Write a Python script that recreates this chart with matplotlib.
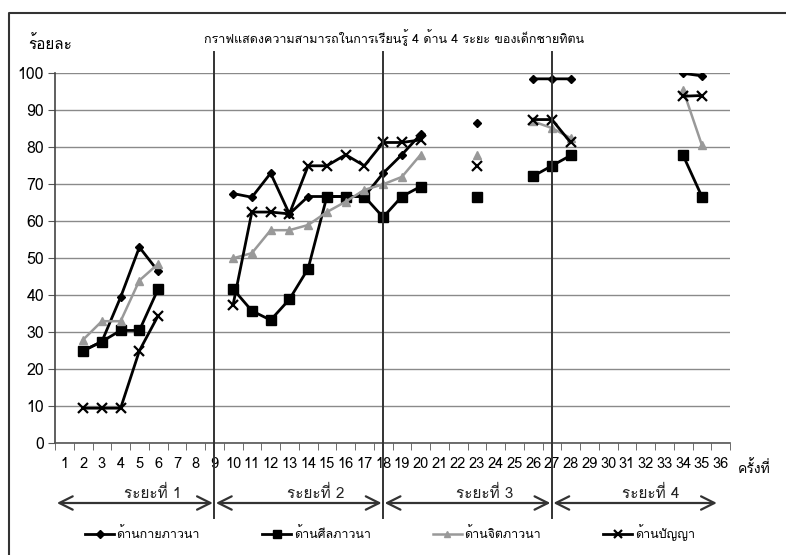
import numpy as np
import matplotlib
matplotlib.use('Agg')
import matplotlib.pyplot as plt
import matplotlib.transforms as mtransforms
from matplotlib import font_manager
from matplotlib.lines import Line2D

nan = np.nan

# ครั้งที่ 1..36
sessions = np.arange(1, 37)
tick_labels = [str(i) for i in sessions]

# ด้านกายภาวนา
kaya = [nan, 25, 27.5, 39.5, 53, 46.5, nan, nan, nan,
        67.5, 66.5, 73, 62, 66.7, 66.7, 66.7, 66.7,
        73, 78, 83.5, nan, nan, 86.7, nan, nan, 98.5,
        98.5, 98.5, nan, nan, nan, nan, nan, 100, 99.3, nan]
# ด้านศีลภาวนา
sila = [nan, 25, 27.5, 30.5, 30.5, 41.7, nan, nan, nan,
        41.7, 35.8, 33.3, 38.9, 47.2, 66.7, 66.7, 66.7,
        61.1, 66.7, 69.4, nan, nan, 66.7, nan, nan, 72.2,
        75, 77.8, nan, nan, nan, nan, nan, 77.8, 66.7, nan]
# ด้านจิตภาวนา
jit = [nan, 28, 33, 33, 44, 48.5, nan, nan, nan,
       50, 51.4, 57.6, 57.6, 59, 62.5, 65.3, 68.5,
       70, 72, 78, nan, nan, 78, nan, nan, 87,
       85.2, 82.5, nan, nan, nan, nan, nan, 95.5, 80.6, nan]
# ด้านปัญญา
panya = [nan, 9.5, 9.5, 9.5, 25, 34.5, nan, nan, nan,
         37.5, 62.5, 62.5, 62, 75, 75, 78, 75,
         81.3, 81.3, 82, nan, nan, 75, nan, nan, 87.5,
         87.5, 81.3, nan, nan, nan, nan, nan, 93.8, 94, nan]

series_names = ['ด้านกายภาวนา', 'ด้านศีลภาวนา', 'ด้านจิตภาวนา', 'ด้านปัญญา']
phase_labels = ['ระยะที่ 1', 'ระยะที่ 2', 'ระยะที่ 3', 'ระยะที่ 4']
phase_edges = [0.6, 9, 18, 27, 35.8]   # ขอบของแต่ละระยะ (ครั้งที่)
divider_sessions = [9, 18, 27]

title = 'กราฟแสดงความสามารถในการเรียนรู้ 4 ด้าน 4 ระยะ ของเด็กชายทิตน'


def find_thai_font():
    try:
        from fontTools.ttLib import TTFont
    except ImportError:
        return None
    for f in font_manager.fontManager.ttflist:
        try:
            tt = TTFont(f.fname, fontNumber=0, lazy=True)
            cmap = tt.getBestCmap()
            if cmap and 0x0E01 in cmap and 0x0E49 in cmap:
                return f.name
        except Exception:
            continue
    return None


thai = find_thai_font()
fam = [thai, 'DejaVu Sans'] if thai else ['DejaVu Sans']
plt.rcParams['font.family'] = fam

fig = plt.figure(figsize=(7.86, 5.55), dpi=100)
W, H = 786, 555
ax = fig.add_axes([55 / W, 1 - 443.3 / H, 675 / W, 370 / H])

styles = [
    dict(color='black', marker='D', ms=4.5, lw=2),
    dict(color='black', marker='s', ms=6.5, lw=2),
    dict(color='#999999', marker='^', ms=5.5, lw=1.8),
    dict(color='black', marker='x', ms=7, mew=1.6, lw=2),
]
for vals, name, st in zip([kaya, sila, jit, panya], series_names, styles):
    ax.plot(sessions, vals, label=name, zorder=3, **st)

ax.set_xlim(0.5, 36.5)
ax.set_ylim(0, 100)
ax.set_yticks(np.arange(0, 101, 10))
ax.set_xticks(sessions)
ax.set_xticklabels(tick_labels, fontsize=10.5)
ax.set_xticks(np.arange(0.5, 37, 1), minor=True)
ax.tick_params(axis='x', which='major', length=0, pad=10)
ax.tick_params(axis='x', which='minor', length=5, color='#555555')
ax.tick_params(axis='y', length=5, color='#555555', labelsize=11.5, pad=3)
ax.yaxis.grid(True, color='#8a8a8a', lw=1)
ax.set_axisbelow(True)
for s in ['top', 'right']:
    ax.spines[s].set_visible(False)
ax.spines['left'].set_color('#444444')
ax.spines['bottom'].set_color('#555555')
ax.spines['left'].set_linewidth(1.2)
ax.spines['bottom'].set_linewidth(1.2)

# เส้นแบ่งระยะ
trans = mtransforms.blended_transform_factory(ax.transData, fig.transFigure)
for xv in divider_sessions:
    ax.add_line(Line2D([xv, xv], [1 - 52 / H, 1 - 518 / H], transform=trans,
                       color='#333333', lw=1.4, clip_on=False, zorder=4))

# ลูกศรระยะ
y_arrow = 1 - 503 / H
for i, lab in enumerate(phase_labels):
    a, b = phase_edges[i], phase_edges[i + 1]
    a0 = a + (0.08 if i > 0 else 0)
    b0 = b - (0.08 if i < 3 else 0)
    ax.annotate('', xy=(b0, y_arrow), xytext=(a0, y_arrow), xycoords=trans,
                textcoords=trans,
                arrowprops=dict(arrowstyle='<->', color='#333333', lw=1.6,
                                mutation_scale=24, shrinkA=0, shrinkB=0))
    ax.text((a + b) / 2 + 0.9, y_arrow + 1.5 / H, lab, transform=trans,
            ha='center', va='bottom', fontsize=11, color='#222222')

ax.set_title(title, fontsize=9, pad=0, y=1 + 30 / 370, x=0.502)
fig.text(28 / W, 1 - 44 / H, 'ร้อยละ', fontsize=11, ha='left', va='center')
fig.text(738 / W, 1 - 468 / H, 'ครั้งที่', fontsize=10, ha='left', va='center')

fig.legend(loc='center', bbox_to_anchor=(390 / W, 1 - 533 / H), ncol=4,
           frameon=False, fontsize=9, handlelength=2.3, handletextpad=0.2,
           columnspacing=5.0, markerscale=0.8)

# กรอบ
fig.add_artist(Line2D([9 / W, 9 / W, 1], [0, 1 - 13 / H, 1 - 13 / H],
                      transform=fig.transFigure, color='#333333', lw=1.5))

fig.savefig('out.png', dpi=100)
